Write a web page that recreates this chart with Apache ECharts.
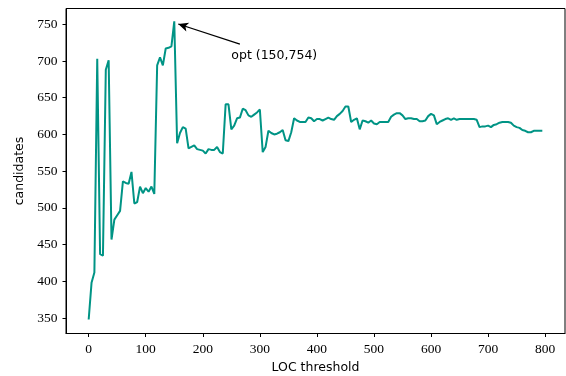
<!DOCTYPE html>
<html>
<head>
<meta charset="utf-8">
<script src="https://cdn.jsdelivr.net/npm/echarts@6/dist/echarts.min.js"></script>
<style>html,body{margin:0;padding:0;background:#fff}#c{width:566px;height:376px}</style>
</head>
<body>
<div id="c"></div>
<script>
const locThreshold = [0,5,10,15,20,25,30,35,40,45,50,55,60,65,70,75,80,85,90,95,100,105,110,115,120,125,130,135,140,145,150,155,160,165,170,175,180,185,190,195,200,205,210,215,220,225,230,235,240,245,250,255,260,265,270,275,280,285,290,295,300,305,310,315,320,325,330,335,340,345,350,355,360,365,370,375,380,385,390,395,400,405,410,415,420,425,430,435,440,445,450,455,460,465,470,475,480,485,490,495,500,505,510,515,520,525,530,535,540,545,550,555,560,565,570,575,580,585,590,595,600,605,610,615,620,625,630,635,640,645,650,655,660,665,670,675,680,685,690,695,700,705,710,715,720,725,730,735,740,745,750,755,760,765,770,775,780,785,790,795];
const candidates = [348,398,412,703,437,435,688,701,457,484,490,496,536,534,533,549,506,508,529,520,527,522,529,519,694,705,694,717,718,720,754,588,602,610,608,581,583,585,580,579,578,574,580,579,579,583,576,574,641,641,607,612,622,623,635,633,626,624,627,630,634,576,583,605,602,600,601,603,606,592,591,603,622,619,617,617,617,623,622,618,621,621,619,621,623,621,620,625,628,632,638,638,617,620,622,607,619,618,616,619,615,614,617,617,617,617,624,627,629,629,626,621,622,622,621,621,618,618,619,625,628,626,614,617,619,621,622,620,622,620,621,621,621,621,621,621,620,610,611,611,612,610,613,614,616,617,617,617,616,612,610,609,606,605,603,603,605,605,605,605];
const xTicks = [0,100,200,300,400,500,600,700,800];
const yTicks = [350,400,450,500,550,600,650,700,750];
const optPoint = [150, 754];
const optLabel = 'opt (150,754)';
const optText = [250, 700];
const arrowTail = [265, 723];
const arrowTip = [157, 750.4];

const serif = 'Liberation Serif';
const sans = 'DejaVu Sans';
const chart = echarts.init(document.getElementById('c'), null, {renderer:'canvas'});
chart.setOption({
  animation:false,
  grid:{left:66, right:1, top:8.5, bottom:42.5, show:true, borderColor:'#000', borderWidth:1, backgroundColor:'transparent', containLabel:false, outerBoundsMode:'none'},
  xAxis:{
    type:'value', min:-39.75, max:834.75,
    name:'LOC threshold', nameLocation:'middle', nameGap:27,
    nameTextStyle:{fontFamily:sans, fontSize:12.5, color:'#000'},
    axisLine:{show:true, onZero:false, lineStyle:{color:'#000', width:1}},
    axisTick:{show:true, length:3.5, lineStyle:{color:'#000', width:1}, customValues:xTicks},
    axisLabel:{fontFamily:serif, fontSize:13.5, color:'#000', margin:9, customValues:xTicks},
    splitLine:{show:false}
  },
  yAxis:{
    type:'value', min:329, max:771.5,
    name:'candidates', nameLocation:'middle', nameGap:40,
    nameTextStyle:{fontFamily:sans, fontSize:12.5, color:'#000'},
    axisLine:{show:true, onZero:false, lineStyle:{color:'#000', width:1}},
    axisTick:{show:true, length:3.5, lineStyle:{color:'#000', width:1}, customValues:yTicks},
    axisLabel:{fontFamily:serif, fontSize:13.5, color:'#000', margin:8.5, customValues:yTicks},
    splitLine:{show:false}
  },
  series:[{
    type:'line',
    data:locThreshold.map((x,i)=>[x, candidates[i]]),
    showSymbol:false, symbol:'none',
    lineStyle:{color:'#009485', width:2},
    itemStyle:{color:'#009485'},
    markLine:{
      silent:true, animation:false,
      symbol:['none','arrow'], symbolSize:[7,10],
      lineStyle:{color:'#000', width:1.3, type:'solid'},
      label:{show:false},
      data:[[{coord:arrowTail},{coord:arrowTip}]]
    },
    markPoint:{
      silent:true, animation:false,
      symbol:'circle', symbolSize:0,
      data:[{coord:optText, value:optLabel}],
      label:{show:true, position:'right', distance:0, offset:[0,-5], formatter:optLabel, fontFamily:sans, fontSize:12.5, color:'#000'}
    }
  }]
});
</script>
</body>
</html>
